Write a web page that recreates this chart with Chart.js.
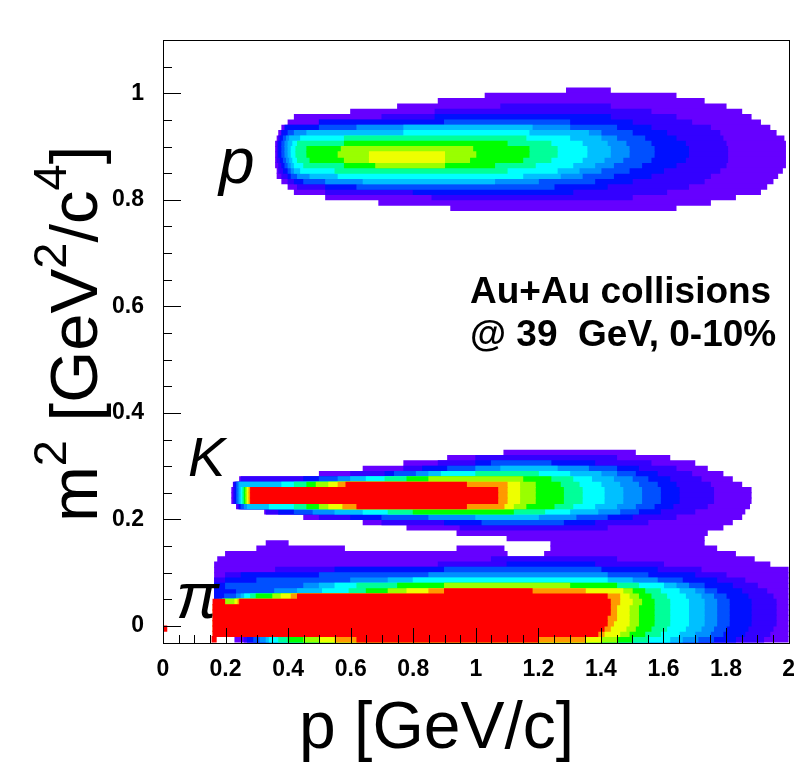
<!DOCTYPE html>
<html><head><meta charset="utf-8">
<script src="https://cdn.jsdelivr.net/npm/chart.js@4.4.1/dist/chart.umd.min.js"></script>
<style>html,body{margin:0;padding:0;background:#fff;overflow:hidden;width:794px;height:776px}canvas{display:block}</style>
</head><body>
<canvas id="c" width="800" height="776"></canvas>
<script>
// ---- data ----
const xTickLabels = ['0','0.2','0.4','0.6','0.8','1','1.2','1.4','1.6','1.8','2'];
const yTickLabels = ['0','0.2','0.4','0.6','0.8','1'];
// colour levels, outer (lowest count) to inner (highest count)
const levelColors = ['#6600ff','#3300ff','#0010ff','#0050ff','#0090ff','#00c0ff','#00ffff','#00ff99','#00ff00','#99ff00','#eeff00','#ff9900','#ff0000'];

// each row: [m2 bin low edge, p start, p end]  (bins of 0.01 GeV^2/c^4)
const protonContours = [
 [[1.00,1.29,1.43],[0.99,1.03,1.64],[0.98,0.88,1.73],[0.97,0.75,1.80],[0.96,0.60,1.85],[0.95,0.42,1.88],[0.94,0.40,1.91],[0.93,0.38,1.94],[0.92,0.37,1.96],[0.91,0.365,1.985],[0.90,0.36,1.99],[0.89,0.36,1.99],[0.88,0.36,1.99],[0.87,0.36,1.99],[0.86,0.36,1.99],[0.85,0.365,1.98],[0.84,0.365,1.965],[0.83,0.38,1.95],[0.82,0.40,1.93],[0.81,0.42,1.91],[0.80,0.52,1.83],[0.79,0.69,1.75],[0.78,0.92,1.64]],
 [[0.97,1.08,1.43],[0.96,0.87,1.56],[0.95,0.70,1.64],[0.94,0.50,1.69],[0.93,0.40,1.75],[0.92,0.38,1.78],[0.91,0.37,1.79],[0.90,0.365,1.80],[0.89,0.365,1.805],[0.88,0.365,1.805],[0.87,0.365,1.805],[0.86,0.37,1.80],[0.85,0.37,1.78],[0.84,0.38,1.75],[0.83,0.40,1.73],[0.82,0.43,1.68],[0.81,0.52,1.61],[0.80,0.86,1.50]],
 [[0.95,0.87,1.43],[0.94,0.50,1.50],[0.93,0.39,1.56],[0.92,0.38,1.61],[0.91,0.375,1.64],[0.90,0.37,1.67],[0.89,0.37,1.68],[0.88,0.37,1.68],[0.87,0.375,1.67],[0.86,0.38,1.64],[0.85,0.385,1.60],[0.84,0.40,1.56],[0.83,0.42,1.50],[0.82,0.52,1.42],[0.81,0.80,1.31]],
 [[0.94,0.90,1.30],[0.93,0.50,1.45],[0.92,0.40,1.50],[0.91,0.385,1.54],[0.90,0.38,1.56],[0.89,0.38,1.57],[0.88,0.38,1.57],[0.87,0.385,1.56],[0.86,0.39,1.53],[0.85,0.40,1.49],[0.84,0.41,1.44],[0.83,0.45,1.38],[0.82,0.62,1.25]],
 [[0.93,0.62,1.30],[0.92,0.42,1.40],[0.91,0.395,1.45],[0.90,0.39,1.48],[0.89,0.39,1.49],[0.88,0.39,1.49],[0.87,0.395,1.47],[0.86,0.40,1.44],[0.85,0.41,1.40],[0.84,0.43,1.34],[0.83,0.52,1.20]],
 [[0.93,0.77,1.18],[0.92,0.46,1.36],[0.91,0.405,1.40],[0.90,0.40,1.42],[0.89,0.40,1.43],[0.88,0.40,1.43],[0.87,0.405,1.41],[0.86,0.41,1.38],[0.85,0.42,1.33],[0.84,0.47,1.27],[0.83,0.64,1.06]],
 [[0.92,0.77,1.17],[0.91,0.44,1.30],[0.90,0.415,1.34],[0.89,0.41,1.355],[0.88,0.41,1.355],[0.87,0.415,1.34],[0.86,0.42,1.31],[0.85,0.44,1.26],[0.84,0.56,1.15]],
 [[0.91,0.58,1.16],[0.90,0.43,1.24],[0.89,0.425,1.26],[0.88,0.425,1.26],[0.87,0.43,1.24],[0.86,0.45,1.19],[0.85,0.55,1.10]],
 [[0.90,0.58,1.10],[0.89,0.46,1.17],[0.88,0.46,1.17],[0.87,0.47,1.15],[0.86,0.58,1.06]],
 [[0.89,0.57,0.99],[0.88,0.56,1.00],[0.87,0.58,0.98],[0.86,0.68,0.90]],
 [[0.88,0.66,0.90],[0.87,0.66,0.90]],
 [],
 []
];

const kaonContours = [
 [[0.32,1.09,1.51],[0.31,0.91,1.62],[0.30,0.77,1.70],[0.29,0.64,1.74],[0.28,0.50,1.79],[0.27,0.245,1.82],[0.26,0.23,1.85],[0.25,0.22,1.88],[0.24,0.22,1.88],[0.23,0.22,1.88],[0.22,0.235,1.875],[0.21,0.325,1.86],[0.20,0.45,1.85],[0.19,0.64,1.82],[0.18,0.78,1.79],[0.17,0.94,1.74],[0.16,1.10,1.73]],
 [[0.31,1.00,1.45],[0.30,0.88,1.56],[0.29,0.77,1.64],[0.28,0.60,1.69],[0.27,0.25,1.72],[0.26,0.225,1.75],[0.25,0.225,1.76],[0.24,0.225,1.76],[0.23,0.225,1.76],[0.22,0.24,1.74],[0.21,0.33,1.70],[0.20,0.50,1.64],[0.19,0.70,1.55],[0.18,0.95,1.42]],
 [[0.30,1.00,1.38],[0.29,0.83,1.52],[0.28,0.71,1.58],[0.27,0.45,1.62],[0.26,0.23,1.64],[0.25,0.23,1.65],[0.24,0.23,1.65],[0.23,0.23,1.65],[0.22,0.245,1.63],[0.21,0.37,1.59],[0.20,0.60,1.50],[0.19,0.90,1.38]],
 [[0.30,1.05,1.24],[0.29,0.91,1.45],[0.28,0.74,1.51],[0.27,0.50,1.55],[0.26,0.235,1.58],[0.25,0.235,1.59],[0.24,0.235,1.59],[0.23,0.235,1.59],[0.22,0.25,1.57],[0.21,0.42,1.52],[0.20,0.70,1.42],[0.19,1.02,1.28]],
 [[0.29,1.00,1.36],[0.28,0.81,1.45],[0.27,0.56,1.50],[0.26,0.24,1.52],[0.25,0.24,1.53],[0.24,0.24,1.53],[0.23,0.24,1.53],[0.22,0.26,1.51],[0.21,0.48,1.46],[0.20,0.85,1.32]],
 [[0.29,1.08,1.26],[0.28,0.85,1.40],[0.27,0.60,1.44],[0.26,0.245,1.46],[0.25,0.245,1.47],[0.24,0.245,1.47],[0.23,0.245,1.47],[0.22,0.27,1.45],[0.21,0.55,1.39],[0.20,1.00,1.20]],
 [[0.28,0.89,1.30],[0.27,0.65,1.37],[0.26,0.38,1.40],[0.25,0.25,1.41],[0.24,0.25,1.41],[0.23,0.25,1.41],[0.22,0.34,1.38],[0.21,0.64,1.30]],
 [[0.28,1.00,1.20],[0.27,0.71,1.31],[0.26,0.42,1.33],[0.25,0.255,1.34],[0.24,0.255,1.34],[0.23,0.255,1.34],[0.22,0.42,1.31],[0.21,0.72,1.22]],
 [[0.27,0.78,1.24],[0.26,0.46,1.27],[0.25,0.26,1.28],[0.24,0.26,1.28],[0.23,0.26,1.28],[0.22,0.46,1.25],[0.21,0.80,1.12]],
 [[0.27,0.85,1.15],[0.26,0.49,1.19],[0.25,0.265,1.19],[0.24,0.265,1.19],[0.23,0.265,1.19],[0.22,0.50,1.16]],
 [[0.26,0.53,1.14],[0.25,0.27,1.14],[0.24,0.27,1.14],[0.23,0.27,1.14],[0.22,0.53,1.12]],
 [[0.26,0.56,1.10],[0.25,0.275,1.10],[0.24,0.275,1.10],[0.23,0.275,1.10],[0.22,0.575,1.09]],
 [[0.26,0.585,0.97],[0.25,0.28,1.07],[0.24,0.28,1.07],[0.23,0.28,1.07],[0.22,0.62,0.97]]
];

const pionContours = [
 [[0.15,0.33,0.40],[0.15,1.24,1.73],[0.14,0.30,0.58],[0.14,0.94,1.09],[0.14,1.24,1.77],[0.13,0.20,1.10],[0.13,1.22,1.83],[0.12,0.175,1.89],[0.11,0.165,1.94],[0.10,0.165,2.0],[0.09,0.165,2.0],[0.08,0.165,2.0],[0.07,0.165,2.0],[0.06,0.165,2.0],[0.05,0.165,2.0],[0.04,0.165,2.0],[0.03,0.165,2.0],[0.02,0.165,2.0],[0.01,0.165,2.0],[0.00,0.165,2.0],[-0.01,0.165,2.0],[-0.02,0.165,2.0],[-0.03,0.23,2.0]],
 [[0.12,1.05,1.45],[0.11,0.88,1.60],[0.10,0.36,1.72],[0.09,0.20,1.80],[0.08,0.165,1.86],[0.07,0.165,1.90],[0.06,0.165,1.93],[0.05,0.165,1.95],[0.04,0.165,1.96],[0.03,0.165,1.96],[0.02,0.165,1.96],[0.01,0.165,1.96],[0.00,0.165,1.96],[-0.01,0.165,1.95],[-0.02,0.165,1.94],[-0.03,0.26,1.92]],
 [[0.11,1.10,1.38],[0.10,0.55,1.58],[0.09,0.25,1.70],[0.08,0.20,1.77],[0.07,0.165,1.82],[0.06,0.165,1.85],[0.05,0.165,1.87],[0.04,0.165,1.88],[0.03,0.165,1.88],[0.02,0.165,1.88],[0.01,0.165,1.88],[0.00,0.165,1.88],[-0.01,0.165,1.87],[-0.02,0.165,1.86],[-0.03,0.27,1.83]],
 [[0.10,0.90,1.40],[0.09,0.50,1.55],[0.08,0.30,1.66],[0.07,0.20,1.73],[0.06,0.235,1.77],[0.05,0.197,1.80],[0.04,0.17,1.81],[0.03,0.17,1.81],[0.02,0.17,1.81],[0.01,0.17,1.81],[0.00,0.17,1.81],[-0.01,0.17,1.80],[-0.02,0.17,1.79],[-0.03,0.29,1.76]],
 [[0.09,0.85,1.42],[0.08,0.60,1.58],[0.07,0.45,1.68],[0.06,0.357,1.73],[0.05,0.235,1.76],[0.04,0.18,1.77],[0.03,0.18,1.77],[0.02,0.18,1.77],[0.01,0.18,1.77],[0.00,0.18,1.77],[-0.01,0.18,1.76],[-0.02,0.18,1.75],[-0.03,0.31,1.71]],
 [[0.08,0.72,1.50],[0.07,0.50,1.64],[0.06,0.43,1.70],[0.05,0.25,1.72],[0.04,0.19,1.73],[0.03,0.19,1.73],[0.02,0.19,1.73],[0.01,0.19,1.73],[0.00,0.19,1.73],[-0.01,0.19,1.72],[-0.02,0.19,1.70],[-0.03,0.33,1.66]],
 [[0.08,0.80,1.42],[0.07,0.55,1.60],[0.06,0.51,1.65],[0.05,0.261,1.67],[0.04,0.19,1.68],[0.03,0.19,1.68],[0.02,0.19,1.68],[0.01,0.19,1.68],[0.00,0.19,1.68],[-0.01,0.19,1.67],[-0.02,0.19,1.65],[-0.03,0.34,1.62]],
 [[0.07,0.62,1.52],[0.06,0.595,1.59],[0.05,0.28,1.61],[0.04,0.19,1.62],[0.03,0.19,1.62],[0.02,0.19,1.62],[0.01,0.19,1.62],[0.00,0.19,1.62],[-0.01,0.19,1.61],[-0.02,0.19,1.59],[-0.03,0.37,1.55]],
 [[0.07,0.75,1.45],[0.06,0.65,1.54],[0.05,0.298,1.56],[0.04,0.19,1.57],[0.03,0.19,1.57],[0.02,0.19,1.57],[0.01,0.19,1.57],[0.00,0.19,1.57],[-0.01,0.19,1.56],[-0.02,0.19,1.54],[-0.03,0.40,1.50]],
 [[0.07,0.90,1.30],[0.06,0.72,1.50],[0.05,0.351,1.52],[0.04,0.197,1.53],[0.03,0.20,1.52],[0.02,0.20,1.52],[0.01,0.20,1.52],[0.00,0.20,1.52],[-0.01,0.20,1.51],[-0.02,0.20,1.49],[-0.03,0.45,1.45]],
 [[0.06,0.78,1.47],[0.05,0.378,1.49],[0.04,0.23,1.50],[0.03,0.20,1.49],[0.02,0.20,1.49],[0.01,0.20,1.49],[0.00,0.20,1.49],[-0.01,0.20,1.48],[-0.02,0.20,1.46],[-0.03,0.50,1.40]],
 [[0.06,0.85,1.35],[0.05,0.41,1.46],[0.04,0.24,1.46],[0.03,0.16,1.45],[0.02,0.16,1.45],[0.01,0.16,1.45],[0.00,0.16,1.44],[-0.01,0.16,1.43],[-0.02,0.16,1.41],[-0.03,0.55,1.35]],
 [[0.06,0.90,1.18],[0.05,0.43,1.42],[0.04,0.16,0.197],[0.04,0.245,1.43],[0.03,0.16,1.43],[0.02,0.16,1.43],[0.01,0.16,1.42],[0.00,0.16,1.42],[-0.01,0.16,1.41],[-0.01,0.0,0.012],[-0.02,0.16,1.39],[-0.03,0.157,0.17],[-0.03,0.62,1.20]]
];

// ---- chart ----
// Chart.js paints dataset 0 last (on top), so outer levels get the highest order
const datasets = [];
[pionContours, kaonContours, protonContours].forEach(band => {
  band.forEach((rows, li) => {
    if (!rows.length) return;
    datasets.push({
      data: rows.map(r => ({ y: Math.round((r[0] + 0.005) * 1000) / 1000, x: [r[1], r[2]] })),
      backgroundColor: levelColors[li],
      borderWidth: 0,
      grouped: false,
      barPercentage: 1,
      categoryPercentage: 1,
      inflateAmount: 0.5
    });
  });
});
datasets.forEach((d, i) => { d.order = datasets.length - i; });

const FONT = '"Liberation Sans", Arial, Helvetica, sans-serif';

const decor = {
  id: 'decor',
  afterDatasetsDraw(chart) {
    const { ctx, chartArea: a, scales: { x, y } } = chart;
    ctx.save();
    ctx.strokeStyle = '#000';
    ctx.lineWidth = 1;
    ctx.beginPath();
    y.ticks.forEach(t => {
      const py = Math.round(y.getPixelForValue(t.value)) + 0.5;
      const major = Math.round(t.value * 20) % 4 === 0;
      ctx.moveTo(a.left, py); ctx.lineTo(a.left + (major ? 18 : 9), py);
    });
    x.ticks.forEach(t => {
      const px = Math.round(x.getPixelForValue(t.value)) + 0.5;
      const major = Math.round(t.value * 20) % 4 === 0;
      ctx.moveTo(px, a.bottom); ctx.lineTo(px, a.bottom - (major ? 15 : 8));
    });
    ctx.stroke();
    ctx.strokeRect(Math.round(a.left) + 0.5, Math.round(a.top) + 0.5, Math.round(a.right - a.left), Math.round(a.bottom - a.top));

    ctx.fillStyle = '#000';
    ctx.textBaseline = 'alphabetic';
    ctx.textAlign = 'left';
    ctx.font = 'italic 64px ' + FONT; ctx.fillText('p', 219, 183);
    ctx.font = 'italic 56px ' + FONT; ctx.fillText('K', 188, 476);
    ctx.font = 'italic 64px ' + FONT; ctx.fillText('π', 176, 618);
    ctx.font = 'bold 37px ' + FONT;
    ctx.fillText('Au+Au collisions', 470, 303);
    ctx.fillText('@ 39  GeV, 0-10%', 470, 346);
    ctx.font = '66px ' + FONT;
    ctx.fillText('p [GeV/c]', 299, 748);

    // y-axis title with superscripts
    ctx.save();
    ctx.translate(97, 522);
    ctx.rotate(-Math.PI / 2);
    const parts = [['m', 0], ['2', 1], [' [GeV', 0], ['2', 1], ['/c', 0], ['4', 1], [']', 0]];
    let cx = 0;
    parts.forEach(([t, sup]) => {
      ctx.font = (sup ? '47px ' : '67px ') + FONT;
      ctx.fillText(t, cx, sup ? -31 : 0);
      cx += ctx.measureText(t).width;
    });
    ctx.restore();
    ctx.restore();
  }
};

const tickFont = { family: FONT, size: 23, weight: 'bold' };

new Chart(document.getElementById('c'), {
  type: 'bar',
  data: { datasets },
  options: {
    indexAxis: 'y',
    responsive: false,
    animation: false,
    devicePixelRatio: 1,
    layout: { padding: { top: 40, right: 10, left: 0, bottom: 0 } },
    plugins: { legend: { display: false }, tooltip: { enabled: false } },
    scales: {
      x: {
        type: 'linear', position: 'bottom', min: 0, max: 2, offset: false,
        grid: { display: false }, border: { display: false },
        ticks: {
          stepSize: 0.05, autoSkip: false, maxRotation: 0, minRotation: 0, padding: 5,
          color: '#000', font: tickFont,
          callback: v => { const i = Math.round(v * 20); return i % 4 === 0 ? xTickLabels[i / 4] : ''; }
        },
        afterFit: s => { s.height = 133; }
      },
      y: {
        type: 'linear', position: 'left', min: -0.032, max: 1.1, offset: false,
        grid: { display: false, offset: false }, border: { display: false },
        ticks: {
          stepSize: 0.05, includeBounds: false, autoSkip: false, padding: 11,
          color: '#000', font: tickFont,
          callback: v => { const i = Math.round(v * 20); return (i % 4 === 0 && i >= 0 && i / 4 < yTickLabels.length) ? yTickLabels[i / 4] : ''; }
        },
        afterFit: s => { s.width = 163; }
      }
    }
  },
  plugins: [decor]
});
</script>
</body></html>
